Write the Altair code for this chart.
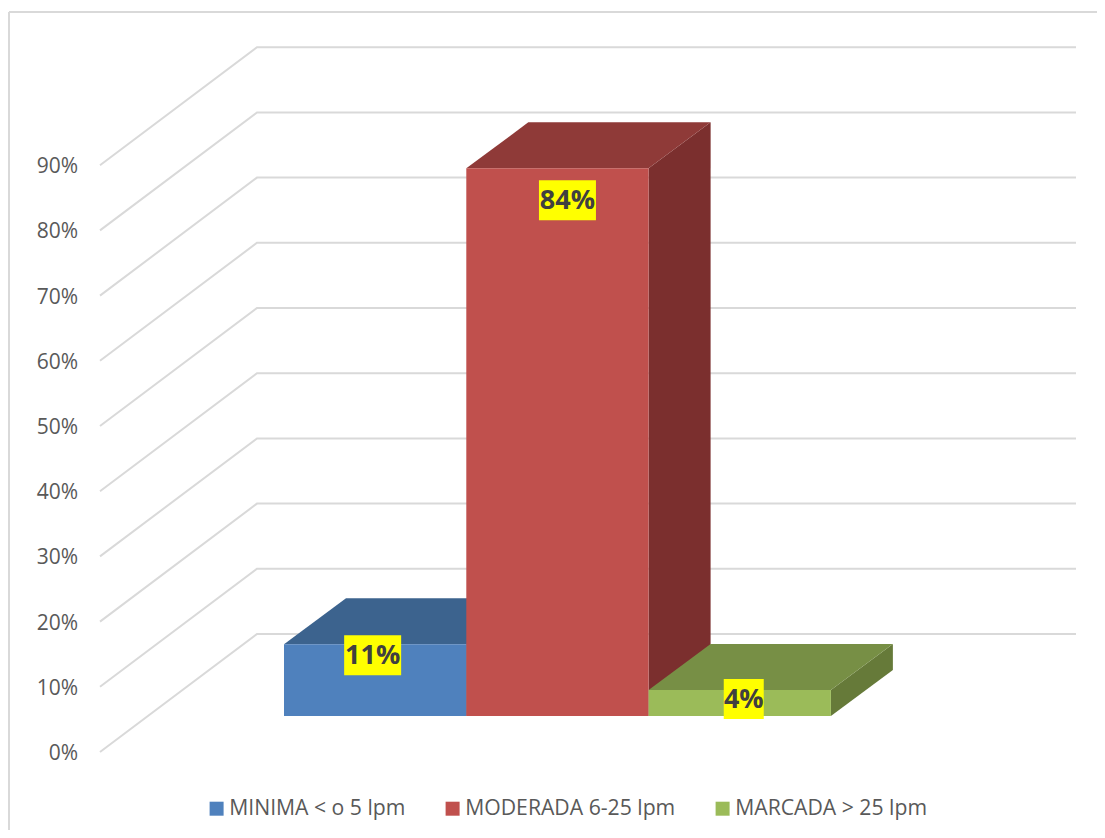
import altair as alt
import pandas as pd

# ---- values
series = ["MINIMA < o 5 lpm", "MODERADA 6-25 lpm", "MARCADA > 25 lpm"]
values = [11, 84, 4]
labels = ["11%", "84%", "4%"]
ticks = [0, 10, 20, 30, 40, 50, 60, 70, 80, 90]
front_colors = ["#4f81bd", "#c0504d", "#9bbb59"]
top_colors = ["#3c638e", "#8f3a38", "#778f45"]
side_colors = ["#375a82", "#7b2f2e", "#667a39"]
label_dx = [-2.5, 10, 4]        # label centre relative to bar centre
label_drop = [1.7, 4.9, 1.4]    # label centre below the bar top, in percent units
label_w = [57, 57, 40]

# ---- projection of the 3D box
FONT = "Open Sans"
GREY = "#595959"
GRID = "#d9d9d9"
PX_PER_PCT = 6.52
WALL_DX, WALL_DV = 157, 118 / PX_PER_PCT       # front plane -> back wall
BASE_SHIFT = 36 / PX_PER_PCT                   # bars stand this far above the axis plane
BAR_DX, BAR_DV = 62, 46 / PX_PER_PCT           # depth of one bar
X_FRONT, X_WALL_END = 100, 1076
X_TICK_LABEL = 78
BAR_X0, BAR_W = 284, 182.3
LABEL_H = 40 / PX_PER_PCT

W, H = 1089, 822
X_DOM = [8, 8 + W]
Y_DOM = [(752 - (8 + H)) / PX_PER_PCT, (752 - 8) / PX_PER_PCT]
xs = alt.Scale(domain=X_DOM, nice=False, zero=False)
ys = alt.Scale(domain=Y_DOM, nice=False, zero=False)
X = alt.X("x:Q", scale=xs, axis=None)
Y = alt.Y("y:Q", scale=ys, axis=None)

grid_rows, side_rows, top_rows, front_rows, label_rows, tick_rows = [], [], [], [], [], []
for t in ticks:
    tick_rows.append({"x": X_TICK_LABEL, "y": t, "text": f"{t}%"})
    grid_rows += [
        {"t": t, "o": 0, "x": X_FRONT, "y": t},
        {"t": t, "o": 1, "x": X_FRONT + WALL_DX, "y": t + WALL_DV},
        {"t": t, "o": 2, "x": X_WALL_END, "y": t + WALL_DV},
    ]
for i, (s, v) in enumerate(zip(series, values)):
    x0, x1 = BAR_X0 + i * BAR_W, BAR_X0 + (i + 1) * BAR_W
    lo, hi = BASE_SHIFT, BASE_SHIFT + v
    front_rows.append({"s": s, "x": x0, "x2": x1, "y": lo, "y2": hi})
    side_rows += [
        {"k": i, "c": side_colors[i], "x": x1, "y": hi, "y2": lo},
        {"k": i, "c": side_colors[i], "x": x1 + BAR_DX, "y": hi + BAR_DV, "y2": lo + BAR_DV},
    ]
    top_rows += [
        {"k": i, "c": top_colors[i], "y": hi, "x": x0, "x2": x1},
        {"k": i, "c": top_colors[i], "y": hi + BAR_DV, "x": x0 + BAR_DX, "x2": x1 + BAR_DX},
    ]
    cx = (x0 + x1) / 2 + label_dx[i]
    cy = hi - label_drop[i]
    label_rows.append({
        "text": labels[i], "x": cx, "y": cy,
        "xa": cx - label_w[i] / 2, "xb": cx + label_w[i] / 2,
        "ya": cy - LABEL_H / 2, "yb": cy + LABEL_H / 2,
    })

frame_top = alt.Chart(pd.DataFrame({"a": [0]})).mark_rule(color=GRID, strokeWidth=2).encode(
    x=alt.value(1), x2=alt.value(W), y=alt.value(4))
frame_left = alt.Chart(pd.DataFrame({"a": [0]})).mark_rule(color=GRID, strokeWidth=2).encode(
    x=alt.value(1), y=alt.value(4), y2=alt.value(H))

tick_labels = alt.Chart(pd.DataFrame(tick_rows)).mark_text(
    font=FONT, fontSize=21, color=GREY, align="right", baseline="middle", dy=2
).encode(x=X, y=Y, text="text:N")

grid = alt.Chart(pd.DataFrame(grid_rows)).mark_line(color=GRID, strokeWidth=2).encode(
    x=X, y=Y, detail="t:N", order="o:Q")

sides = alt.Chart(pd.DataFrame(side_rows)).mark_area(orient="vertical").encode(
    x=X, y=Y, y2="y2:Q", detail="k:N", color=alt.Color("c:N", scale=None))

tops = alt.Chart(pd.DataFrame(top_rows)).mark_area(orient="horizontal").encode(
    y=Y, x=X, x2="x2:Q", detail="k:N", color=alt.Color("c:N", scale=None))

fronts = alt.Chart(pd.DataFrame(front_rows)).mark_rect().encode(
    x=X, x2="x2:Q", y=Y, y2="y2:Q",
    color=alt.Color("s:N", scale=alt.Scale(domain=series, range=front_colors),
                    legend=alt.Legend(
                        orient="none", legendX=198, legendY=790, direction="horizontal",
                        columns=3, title=None, symbolType="square", symbolSize=196,
                        symbolStrokeWidth=0, labelFont=FONT, labelFontSize=21.2,
                        labelColor=GREY, labelLimit=300, labelOffset=2,
                        columnPadding=36, padding=0)),
)

lab_df = pd.DataFrame(label_rows)
boxes = alt.Chart(lab_df).mark_rect(color="#ffff00").encode(
    x=alt.X("xa:Q", scale=xs, axis=None), x2="xb:Q",
    y=alt.Y("ya:Q", scale=ys, axis=None), y2="yb:Q")
texts = alt.Chart(lab_df).mark_text(
    font=FONT, fontWeight="bold", fontSize=27, color="#404040", baseline="middle",
    align="center", dy=1
).encode(x=X, y=Y, text="text:N")

chart = alt.layer(
    frame_top, frame_left, tick_labels, grid, sides, tops, fronts, boxes, texts
).resolve_scale(color="independent").properties(
    width=W, height=H, padding=0, autosize=alt.AutoSizeParams(type="none"),
    background="white",
).configure_view(stroke=None)

chart.save("out.html", embed_options={"renderer": "svg", "actions": False})
